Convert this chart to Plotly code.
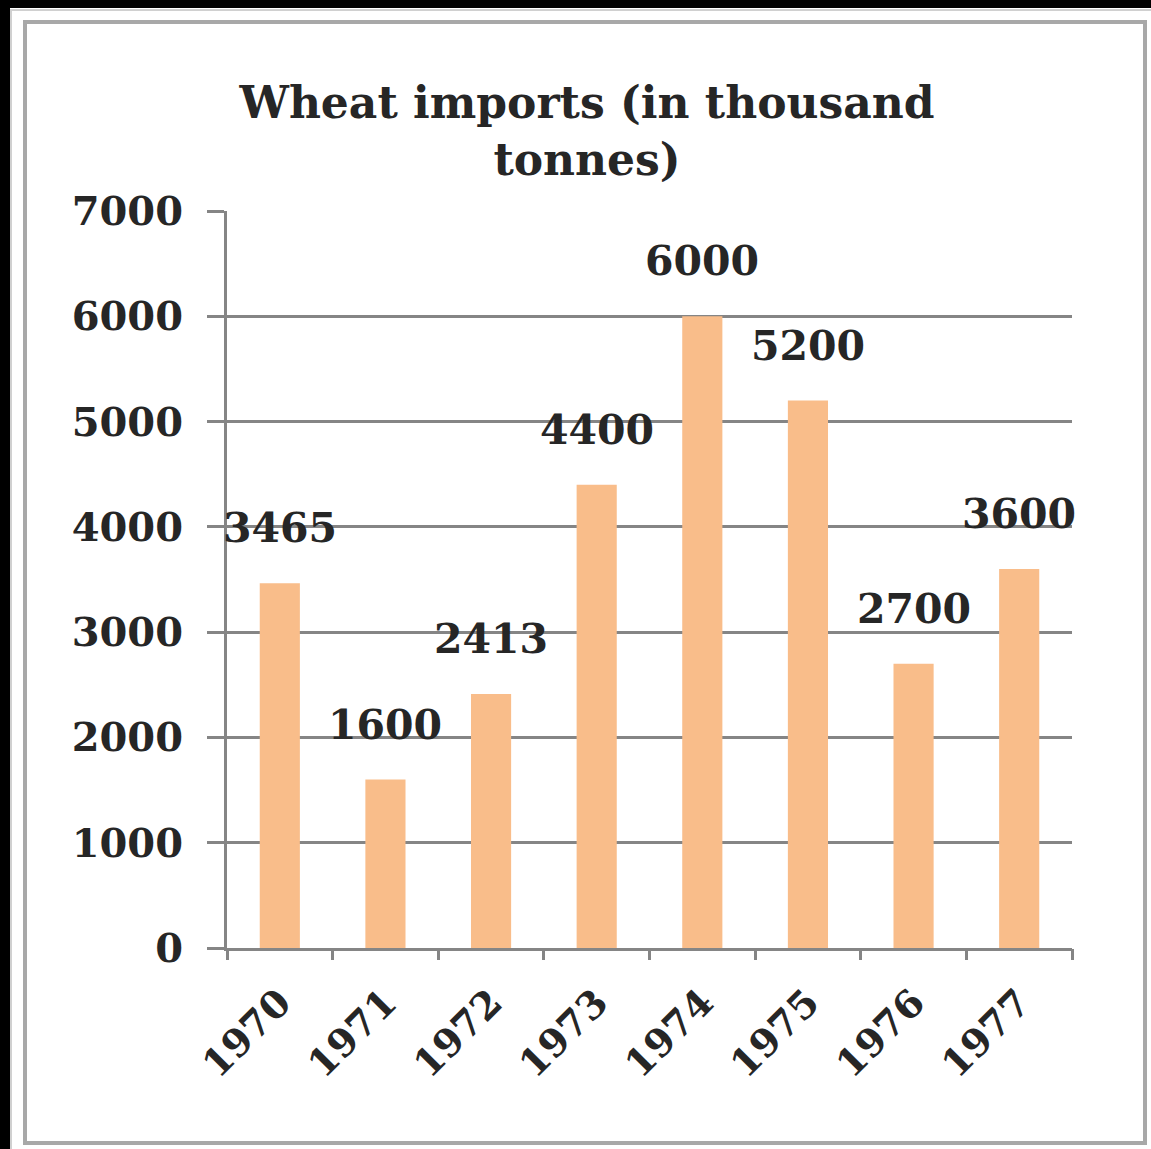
import plotly.graph_objects as go

years = ["1970", "1971", "1972", "1973", "1974", "1975", "1976", "1977"]
imports = [3465, 1600, 2413, 4400, 6000, 5200, 2700, 3600]
y_ticks = [0, 1000, 2000, 3000, 4000, 5000, 6000, 7000]

FONT = "DejaVu Serif, serif"
GRID = "#858585"
BAR = "#F9BD8A"
TXT = "#262626"

W, H = 1151, 1149
L, R, T, B = 227, 79, 211, 201
PW, PH = W - L - R, H - T - B


def px(x):
    return (x - L) / PW


def py(y):
    return (H - B - y) / PH


fig = go.Figure()
fig.add_trace(go.Bar(x=list(range(len(years))), y=imports,
                     marker=dict(color=BAR, line=dict(width=0)),
                     width=0.38, hoverinfo="skip"))

for i, v in enumerate(imports):
    fig.add_annotation(x=i, y=v, text=str(v), showarrow=False, yshift=55,
                       yanchor="middle", xanchor="center",
                       font=dict(family=FONT, size=41, color=TXT, weight="bold"))

shapes = [
    dict(type="rect", xref="paper", yref="paper", x0=px(-5), x1=px(10), y0=py(-5), y1=py(H + 5),
         fillcolor="black", line=dict(width=0), layer="below"),
    dict(type="rect", xref="paper", yref="paper", x0=px(-5), x1=px(W + 5), y0=py(-5), y1=py(8),
         fillcolor="black", line=dict(width=0), layer="below"),
    dict(type="rect", xref="paper", yref="paper", x0=px(11), x1=px(W + 5), y0=py(H + 5), y1=py(10),
         fillcolor="rgba(0,0,0,0)", line=dict(width=2, color="#d0d0d0"), layer="below"),
    dict(type="rect", xref="paper", yref="paper", x0=px(25), x1=px(1145), y0=py(1143), y1=py(22),
         fillcolor="rgba(0,0,0,0)", line=dict(width=4, color="#a8a8a8"), layer="below"),
]

fig.update_layout(
    width=W, height=H,
    margin=dict(l=L, r=R, t=T, b=B, autoexpand=False),
    paper_bgcolor="white", plot_bgcolor="white",
    showlegend=False,
    shapes=shapes,
    title=dict(text="Wheat imports (in thousand<br>tonnes)", x=587 / W, xanchor="center",
               xref="container", yref="container", y=1 - 118 / H, yanchor="top",
               font=dict(family=FONT, size=44, color=TXT, weight="bold")),
    xaxis=dict(range=[-0.5, len(years) - 0.5], tickmode="array",
               tickvals=list(range(len(years))), ticktext=years,
               ticks="", showline=True, linecolor=GRID, linewidth=3,
               showgrid=False, tickangle=-45, zeroline=False, ticklabelstandoff=14,
               tickfont=dict(family=FONT, size=38, color=TXT, weight="bold")),
    xaxis2=dict(overlaying="x", matches="x", range=[-0.5, len(years) - 0.5], tickmode="array",
                tickvals=[i - 0.5 for i in range(len(years) + 1)], ticktext=[""] * (len(years) + 1),
                ticks="outside", ticklen=11, tickwidth=3, tickcolor=GRID, side="bottom",
                showgrid=False, showline=False, zeroline=False, anchor="y"),
    yaxis=dict(range=[0, 7000], tickvals=y_ticks, ticktext=[str(t) for t in y_ticks],
               ticks="outside", ticklen=17, tickwidth=3, tickcolor=GRID,
               showline=True, linecolor=GRID, linewidth=3,
               showgrid=True, gridcolor=GRID, gridwidth=3, zeroline=False,
               ticklabelstandoff=16,
               tickfont=dict(family=FONT, size=40, color=TXT, weight="bold")),
)

fig.add_trace(go.Scatter(x=[0], y=[0], xaxis="x2", mode="markers", marker=dict(opacity=0),
                         hoverinfo="skip", showlegend=False))

fig.write_html("out.html")
